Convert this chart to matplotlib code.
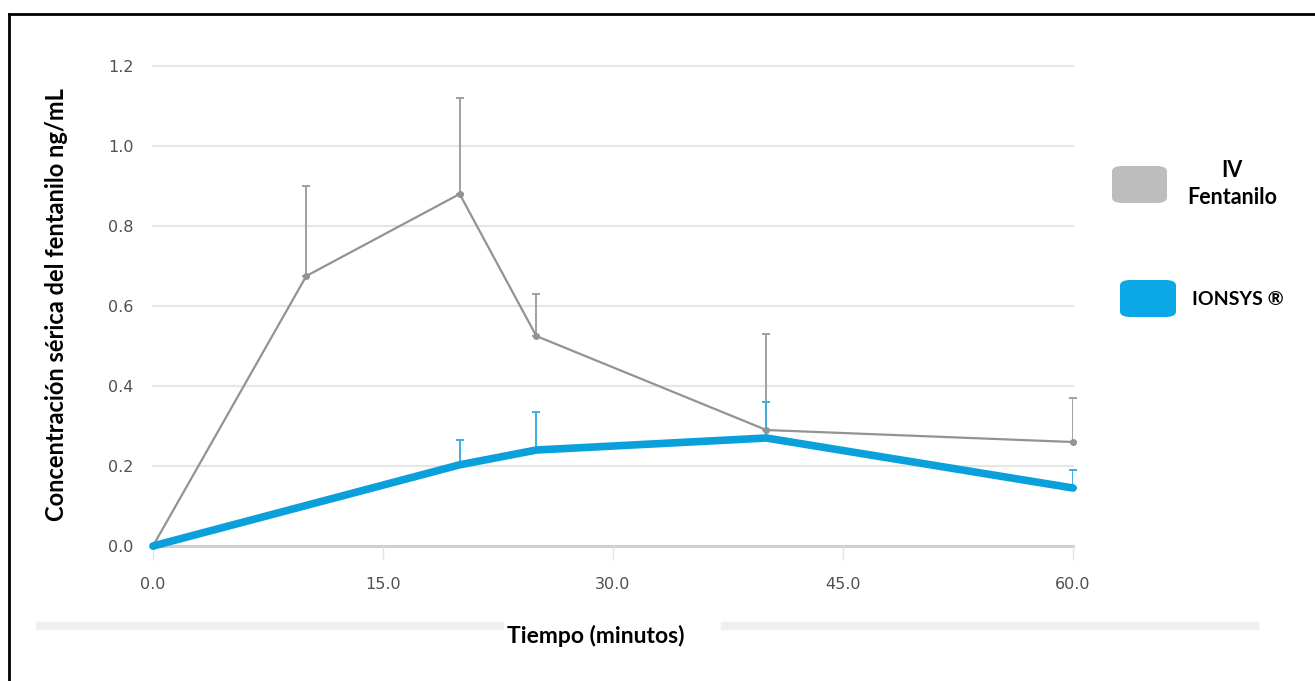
import numpy as np
import matplotlib.pyplot as plt
from matplotlib.patches import FancyBboxPatch
from matplotlib.lines import Line2D

# datos
t_iv = [0, 10, 20, 25, 40, 60]
c_iv = [0.0, 0.675, 0.88, 0.525, 0.29, 0.26]
err_iv = [0.0, 0.225, 0.24, 0.105, 0.24, 0.11]

t_ion = [0, 20, 25, 40, 60]
c_ion = [0.0, 0.203, 0.24, 0.27, 0.145]
err_ion = [0.0, 0.062, 0.095, 0.09, 0.045]

xticks = [0, 15, 30, 45, 60]
yticks = [0.0, 0.2, 0.4, 0.6, 0.8, 1.0, 1.2]

azul = "#0aa0dc"

fig = plt.figure(figsize=(13.15, 6.81), dpi=100)
ax = fig.add_axes([0.1163, 0.1982, 0.816 - 0.1163, 0.9031 - 0.1982])

# rejilla
for y in yticks:
    ax.axhline(y, color="#e6e6e6" if y > 0 else "#d0d0d0", lw=1.6 if y > 0 else 2.2, zorder=0)

# IV fentanilo
ax.plot(t_iv, c_iv, color="#939393", lw=1.6, marker="o", ms=4, zorder=3)
ax.errorbar(t_iv[1:], c_iv[1:], yerr=[np.zeros(5), err_iv[1:]], fmt="none",
            ecolor="#a0a0a0", elinewidth=1.4, capsize=3, capthick=1.4, zorder=2)

# IONSYS
ax.errorbar(t_ion[1:], c_ion[1:], yerr=[np.zeros(4), err_ion[1:]], fmt="none",
            ecolor="#3aaee0", elinewidth=1.4, capsize=3, capthick=1.4, zorder=2)
ax.plot(t_ion, c_ion, color=azul, lw=5.5, solid_capstyle="round",
        solid_joinstyle="round", zorder=4)

ax.set_xlim(0, 60)
ax.set_ylim(0, 1.2)
ax.set_xticks(xticks)
ax.set_yticks(yticks)
ax.set_xticklabels(["%.1f" % v for v in xticks])
ax.set_yticklabels(["%.1f" % v for v in yticks])
for s in ax.spines.values():
    s.set_visible(False)
ax.tick_params(axis="y", length=0, pad=14, labelsize=11.5, labelcolor="#505050")
ax.tick_params(axis="x", length=10, width=1, color="#e4e4e4", direction="out", pad=12,
               labelsize=11.5, labelcolor="#505050")
for lab in ax.get_xticklabels() + ax.get_yticklabels():
    lab.set_family(["Liberation Sans Narrow", "DejaVu Sans"])
for a in ax.lines:
    a.set_clip_on(False)

fuente = ["Lato", "DejaVu Sans"]
fig.text(0.043, 0.553, "Concentración sérica del fentanilo ng/mL", rotation=90,
         ha="center", va="center", fontsize=17, fontweight="bold", family=fuente)
fig.text(0.453, 0.066, "Tiempo (minutos)", ha="center", va="center",
         fontsize=16.5, fontweight="bold", family=fuente)

# lineas grises detras del titulo del eje x
fig.add_artist(Line2D([40 / 1315, 500 / 1315], [1 - 626 / 681] * 2, color="#efefef", lw=6))
fig.add_artist(Line2D([725 / 1315, 1255 / 1315], [1 - 626 / 681] * 2, color="#efefef", lw=6))

# marco
fig.add_artist(Line2D([9 / 1315, 9 / 1315], [0, 1 - 14 / 681], color="black", lw=2))
fig.add_artist(Line2D([9 / 1315, 1], [1 - 14 / 681] * 2, color="black", lw=2))

# leyenda
W, H = 1315, 681
def caja(x0, y0, w, h, color):
    p = FancyBboxPatch((x0 / W, 1 - (y0 + h) / H), w / W, h / H,
                       boxstyle="round,pad=0,rounding_size=0.008",
                       transform=fig.transFigure, facecolor=color, edgecolor="none")
    fig.add_artist(p)

caja(1112, 166, 55, 37, "#bdbdbd")
caja(1120, 280, 56, 37, "#0aa8e6")
fig.text(1232 / W, 1 - 184 / H, "IV\nFentanilo", ha="center", va="center",
         fontsize=15.5, fontweight="bold", family=fuente, linespacing=1.4)
fig.text(1192 / W, 1 - 299 / H, "IONSYS ®", ha="left", va="center",
         fontsize=14, fontweight="bold", family=fuente)

fig.savefig("out.png", dpi=100)
